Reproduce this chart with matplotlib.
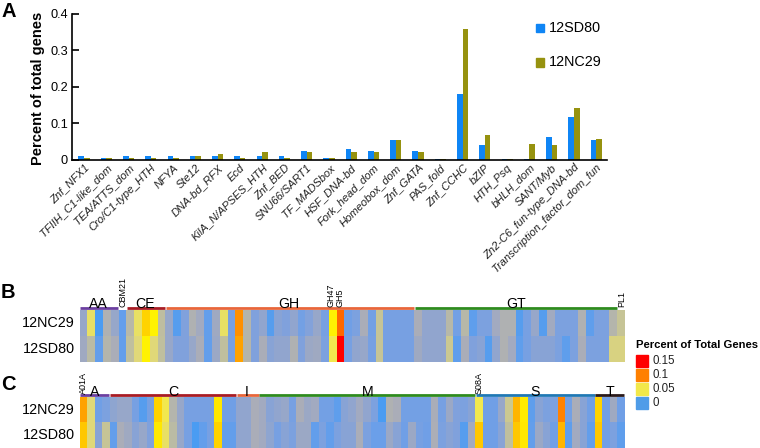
import numpy as np
import matplotlib
matplotlib.use("Agg")
import matplotlib.pyplot as plt
from matplotlib.colors import LinearSegmentedColormap
from matplotlib.patches import Rectangle

plt.rcParams["font.family"] = ["Liberation Sans", "DejaVu Sans"]

W, H = 760, 448

# panel A
domains = ["Znf_NFX1", "TFIIH_C1-like_dom", "TEA/ATTS_dom", "Cro/C1-type_HTH", "NFYA", "Ste12",
           "DNA-bd_RFX", "Ecd", "KilA_N/APSES_HTH", "Znf_BED", "SNU66/SART1", "TF_MADSbox",
           "HSF_DNA-bd", "Fork_head_dom", "Homeobox_dom", "Znf_GATA", "PAS_fold", "Znf_CCHC",
           "bZIP", "HTH_Psq", "bHLH_dom", "SANT/Myb", "Zn2-C6_fun-type_DNA-bd",
           "Transcription_factor_dom_fun"]
sd80 = [.01, .005, .01, .01, .01, .01, .01, .01, .01, .01, .025, .005,
        .03, .025, .053, .025, .003, .181, .04, .003, .003, .062, .116, .053]
nc29 = [.005, .005, .005, .005, .005, .01, .015, .005, .02, .005, .02, .005,
        .02, .02, .053, .02, .003, .358, .067, .003, .043, .04, .141, .058]
y_ticks = [0, 0.1, 0.2, 0.3, 0.4]
y_tick_labels = ["0", "0.1", "0.2", "0.3", "0.4"]

# panel B, CAZy families
b_nc29 = [.015, .045, 0, .022, .015, .004, .025, .045, .08, .065, .027, .015,
          .002, .01, .022, .018, .004, .017, .045, .008, .1, .024, .01, .014,
          .002, .012, .01, .014, .007, .011, .015, .008, .065, .115, .006, .009,
          .02, .007, .03, .008, .008, .008, .008, .02, .014, .014, .014, .025,
          .007, .025, .003, .009, .009, .018, .022, .022, .002, .008, .015, .002,
          .018, .009, .009, .009, .022, .003, .009, .009, .024, .03]
b_sd80 = [.017, .026, .004, .024, .02, .004, .028, .04, .065, .04, .028, .015,
          .01, .01, .015, .02, .004, .016, .028, .008, .095, .024, .01, .02,
          .012, .014, .014, .022, .01, .016, .017, .009, .05, .15, .008, .014,
          .015, .008, .03, .008, .008, .008, .008, .017, .014, .014, .014, .032,
          .003, .02, .01, .012, .002, .014, .022, .018, .003, .008, .012, .012,
          .012, .009, .003, .009, .02, .009, .009, .009, .037, .037]
b_groups = [("AA", 0, 5, "#6b3fa0"), ("CE", 6, 11, "#a81c24"), ("GH", 11, 43, "#e8663a"),
            ("GT", 43, 69, "#2e8b1e")]
b_small = ["CBM21", "GH47", "GH5", "PL1"]

# panel C, peptidase families
c_nc29 = [.095, .04, .006, .009, .013, .015, .015, .008, .002, .008, .08, .05,
          .024, .015, .008, .008, .008, .008, .07, .006, .006, .014, .014, .02,
          .018, .012, .014, .015, .008, .02, .016, .018, .007, .007, .003, .012,
          .014, .018, .014, .009, 0, .022, .02, .007, .007, .007, .007, .02,
          .008, .016, .01, .009, .012, .05, .006, .006, .015, .032, .09, .068,
          .003, .012, .009, .009, .105, .007, .02, .012, .006, .08, .006, .017, .006]
c_sd80 = [.085, .04, .012, .03, .004, .02, .017, .012, .015, .01, .07, .045,
          .026, .015, .008, 0, .004, .008, .08, .004, .004, .014, .014, .02,
          .018, .013, .008, .012, .009, .016, .016, .004, .009, .004, .009, .012,
          .012, .02, .009, .005, .005, .016, .012, .006, .016, .008, .006, .021,
          .009, .012, .01, .002, .018, .085, .006, .006, .012, .028, .085, .07,
          .004, .016, .012, .006, .09, .003, .018, .012, .004, .085, .006, .009, .003]
c_groups = [("A", 0, 4, "#6b3fa0"), ("C", 4, 21, "#a81c24"), ("I", 21, 24, "#e8663a"),
            ("M", 24, 53, "#2e8b1e"), ("S", 53, 69, "#1f78b4"), ("T", 69, 73, "#2a1a1a")]

row_names = ["12NC29", "12SD80"]
legend_values = ["0.15", "0.1", "0.05", "0"]
legend_colors = ["#ff0000", "#ff8000", "#f2e84a", "#4f9ce8"]

# colour ramp of the heatmaps, blue through grey to yellow, orange, red
cmap = LinearSegmentedColormap.from_list("heat", [
    (0.0, "#4a9cf2"), (0.005 / .15, "#6d9fe8"), (0.01 / .15, "#80a1dc"), (0.015 / .15, "#98a7c8"),
    (0.02 / .15, "#aaadb8"), (0.03 / .15, "#c6c496"), (0.04 / .15, "#e0d878"), (0.05 / .15, "#f2e84e"),
    (0.065 / .15, "#fff200"), (0.085 / .15, "#ffc800"), (0.1 / .15, "#ff9000"), (0.12 / .15, "#ff5a00"),
    (1.0, "#ff0000")])


def px_axes(fig, left, top, right, bottom):
    return fig.add_axes([left / W, 1 - bottom / H, (right - left) / W, (bottom - top) / H])


fig = plt.figure(figsize=(W / 100, H / 100), dpi=100)

# overlay in pixel coordinates for the loose labels
over = fig.add_axes([0, 0, 1, 1], zorder=5)
over.set_xlim(0, W)
over.set_ylim(H, 0)
over.axis("off")

# bars
ax = px_axes(fig, 72, 14, 606.7, 159.7)
x = np.arange(len(domains))
ax.bar(x - 0.125, sd80, 0.25, color="#0f85f5")
ax.bar(x + 0.125, nc29, 0.25, color="#96920f")
ax.set_xlim(-0.539, 23.47)
ax.set_ylim(0, 0.4)
ax.set_yticks(y_ticks)
ax.set_yticklabels(y_tick_labels, fontsize=9.2)
ax.set_xticks(x)
ax.set_xticklabels(domains, rotation=45, ha="right", va="top", rotation_mode="anchor",
                   fontsize=8, color="#222222", style="italic")
ax.tick_params(axis="x", length=0, pad=2)
ax.tick_params(axis="y", length=5, width=1.2, direction="in", pad=3, color="black")
ax.spines["top"].set_visible(False)
ax.spines["right"].set_visible(False)
ax.spines["left"].set_linewidth(1.2)
ax.spines["bottom"].set_linewidth(1.2)
ax.patch.set_alpha(0)
over.text(38, 88, "Percent of total genes", rotation=90, ha="center", va="center",
          fontsize=10.5, fontweight="bold")

over.add_patch(Rectangle((535.7, 24), 8.3, 8.3, color="#0f85f5"))
over.add_patch(Rectangle((535.7, 58.5), 8.3, 8.3, color="#96920f"))
over.text(549, 28, "12SD80", fontsize=10.4, va="center")
over.text(549, 62.5, "12NC29", fontsize=10.4, va="center")


def heat(top, split, bottom, rows, groups, right=624.7):
    a = px_axes(fig, 79.7, top, right, bottom)
    data = np.array(rows)
    a.pcolormesh(np.arange(data.shape[1] + 1), [0, 1, 2], data, cmap=cmap, vmin=0, vmax=.15)
    a.set_ylim(2, 0)
    a.axis("off")
    for name, start, end, col in groups:
        a.plot([start + 0.03, end - 0.03], [-0.06, -0.06], color=col, lw=2, clip_on=False,
               solid_capstyle="butt")
    over.text(75, (top + split) / 2, row_names[0], ha="right", va="center", fontsize=10.4)
    over.text(75, (split + bottom) / 2, row_names[1], ha="right", va="center", fontsize=10.4)


heat(310, 335.7, 361.7, [b_nc29, b_sd80], b_groups)
heat(396.7, 422.3, 448, [c_nc29, c_sd80], c_groups)

# group names
for name, xp in [("AA", 98.5), ("CE", 145), ("GH", 289), ("GT", 516)]:
    over.text(xp, 308.5, name, ha="center", va="baseline", fontsize=10.2)
for name, xp in [("A", 95), ("C", 173.7), ("I", 247), ("M", 368), ("S", 535), ("T", 610)]:
    over.text(xp, 395.5, name, ha="center", va="baseline", fontsize=10.2)
for name, xp in zip(b_small, [122.5, 331, 340, 621.7]):
    over.text(xp, 307, name, rotation=90, ha="center", va="bottom", fontsize=6.5)
over.text(83.5, 394, "A01A", rotation=90, ha="center", va="bottom", fontsize=6.5)
over.text(478.7, 394, "S08A", rotation=90, ha="center", va="bottom", fontsize=6.5)

# panel letters
over.text(1, 17, "A", fontsize=14.5, fontweight="bold", va="baseline")
over.text(1, 298, "B", fontsize=14.5, fontweight="bold", va="baseline")
over.text(1, 390, "C", fontsize=14.5, fontweight="bold", va="baseline")

# colour legend
over.text(635.7, 345, "Percent of Total Genes", fontsize=8.1, fontweight="bold", va="center")
for i, (val, col) in enumerate(zip(legend_values, legend_colors)):
    ytop = 355 + i * 13.9
    over.add_patch(Rectangle((636, ytop), 12.3, 12.3, color=col))
    over.text(652.7, ytop + 6.4, val, fontsize=8.3, va="center", color="#222222")

fig.savefig("out.png", dpi=100)
